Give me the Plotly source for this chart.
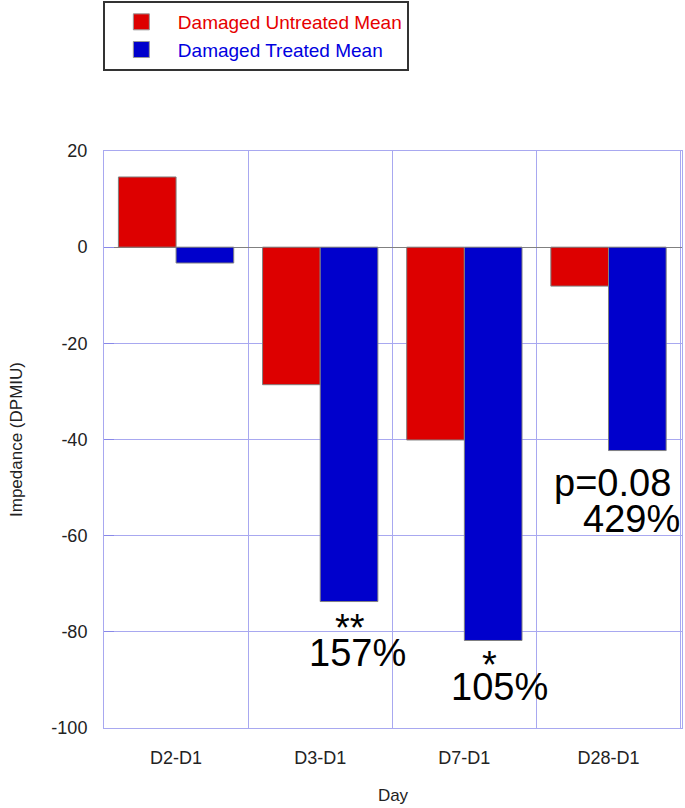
import plotly.graph_objects as go

categories = ["D2-D1", "D3-D1", "D7-D1", "D28-D1"]
untreated = [14.6, -28.6, -40.1, -8.1]
treated = [-3.3, -73.7, -81.8, -42.3]
series_names = ["Damaged Untreated Mean", "Damaged Treated Mean"]
y_ticks = [20, 0, -20, -40, -60, -80, -100]
y_tick_labels = ["20", "0", "-20", "-40", "-60", "-80", "-100"]

# significance annotations: (category, text, y value, x shift px)
notes = [
    ("D3-D1", "**", -79.3, 30),
    ("D3-D1", "157%", -84.3, 37),
    ("D7-D1", "*", -87.0, 25),
    ("D7-D1", "105%", -91.4, 35),
    ("D28-D1", "p=0.08", -49.0, 4),
    ("D28-D1", "429%", -56.6, 23),
]

RED = "#DD0000"
BLUE = "#0000CC"
GRID = "#A8A8F0"
FONT = "Arial, Liberation Sans, sans-serif"

fig = go.Figure()
fig.add_trace(go.Bar(
    x=categories, y=untreated, showlegend=False,
    marker=dict(color=RED, line=dict(color="#808080", width=1)),
))
fig.add_trace(go.Bar(
    x=categories, y=treated, showlegend=False,
    marker=dict(color=BLUE, line=dict(color="#808080", width=1)),
))
# legend-only entries with larger square swatches
for nm, col, tcol in [(series_names[0], RED, "#E60000"), (series_names[1], BLUE, "#0000E0")]:
    fig.add_trace(go.Scatter(
        x=[None], y=[None], mode="markers",
        name=f"<span style='color:{tcol}'>{nm}</span>",
        marker=dict(symbol="square", size=17, color=col, line=dict(color="#999", width=1)),
    ))

for cat, txt, yv, xs in notes:
    fig.add_annotation(x=cat, y=yv, xref="x", yref="y", text=txt, showarrow=False,
                       xshift=xs, yanchor="middle", xanchor="center",
                       font=dict(size=38, color="black", family=FONT))

fig.update_layout(
    width=685, height=808,
    margin=dict(l=104, r=3, t=151, b=80, autoexpand=False),
    paper_bgcolor="white", plot_bgcolor="white",
    barmode="group", bargap=0.2, bargroupgap=0,
    font=dict(family=FONT, size=18, color="#222"),
    showlegend=True,
    legend=dict(
        x=-0.002, y=1.26, xanchor="left", yanchor="top",
        bgcolor="white", bordercolor="#333", borderwidth=2,
        font=dict(size=19, family=FONT),
        itemwidth=63, tracegroupgap=0,
    ),
    xaxis=dict(
        type="category", tickson="boundaries", showgrid=True, gridcolor=GRID,
        showline=True, linecolor=GRID, mirror=True, ticks="",
        tickfont=dict(size=18), ticklabelstandoff=13,
        title=dict(text="Day", font=dict(size=17), standoff=22),
    ),
    yaxis=dict(
        range=[-100, 20], tickvals=y_ticks, ticktext=y_tick_labels,
        showgrid=True, gridcolor=GRID, showline=True, linecolor=GRID, mirror=True,
        ticks="inside", ticklen=10, tickcolor="#8888E8",
        zeroline=True, zerolinecolor="#808080", zerolinewidth=1,
        tickfont=dict(size=18), ticklabelstandoff=12,
        title=dict(text="Impedance (DPMIU)", font=dict(size=17), standoff=24),
    ),
)

fig.write_html("out.html", config={"displayModeBar": False},
               post_script="document.body.style.margin='0';document.body.style.overflow='hidden';")
